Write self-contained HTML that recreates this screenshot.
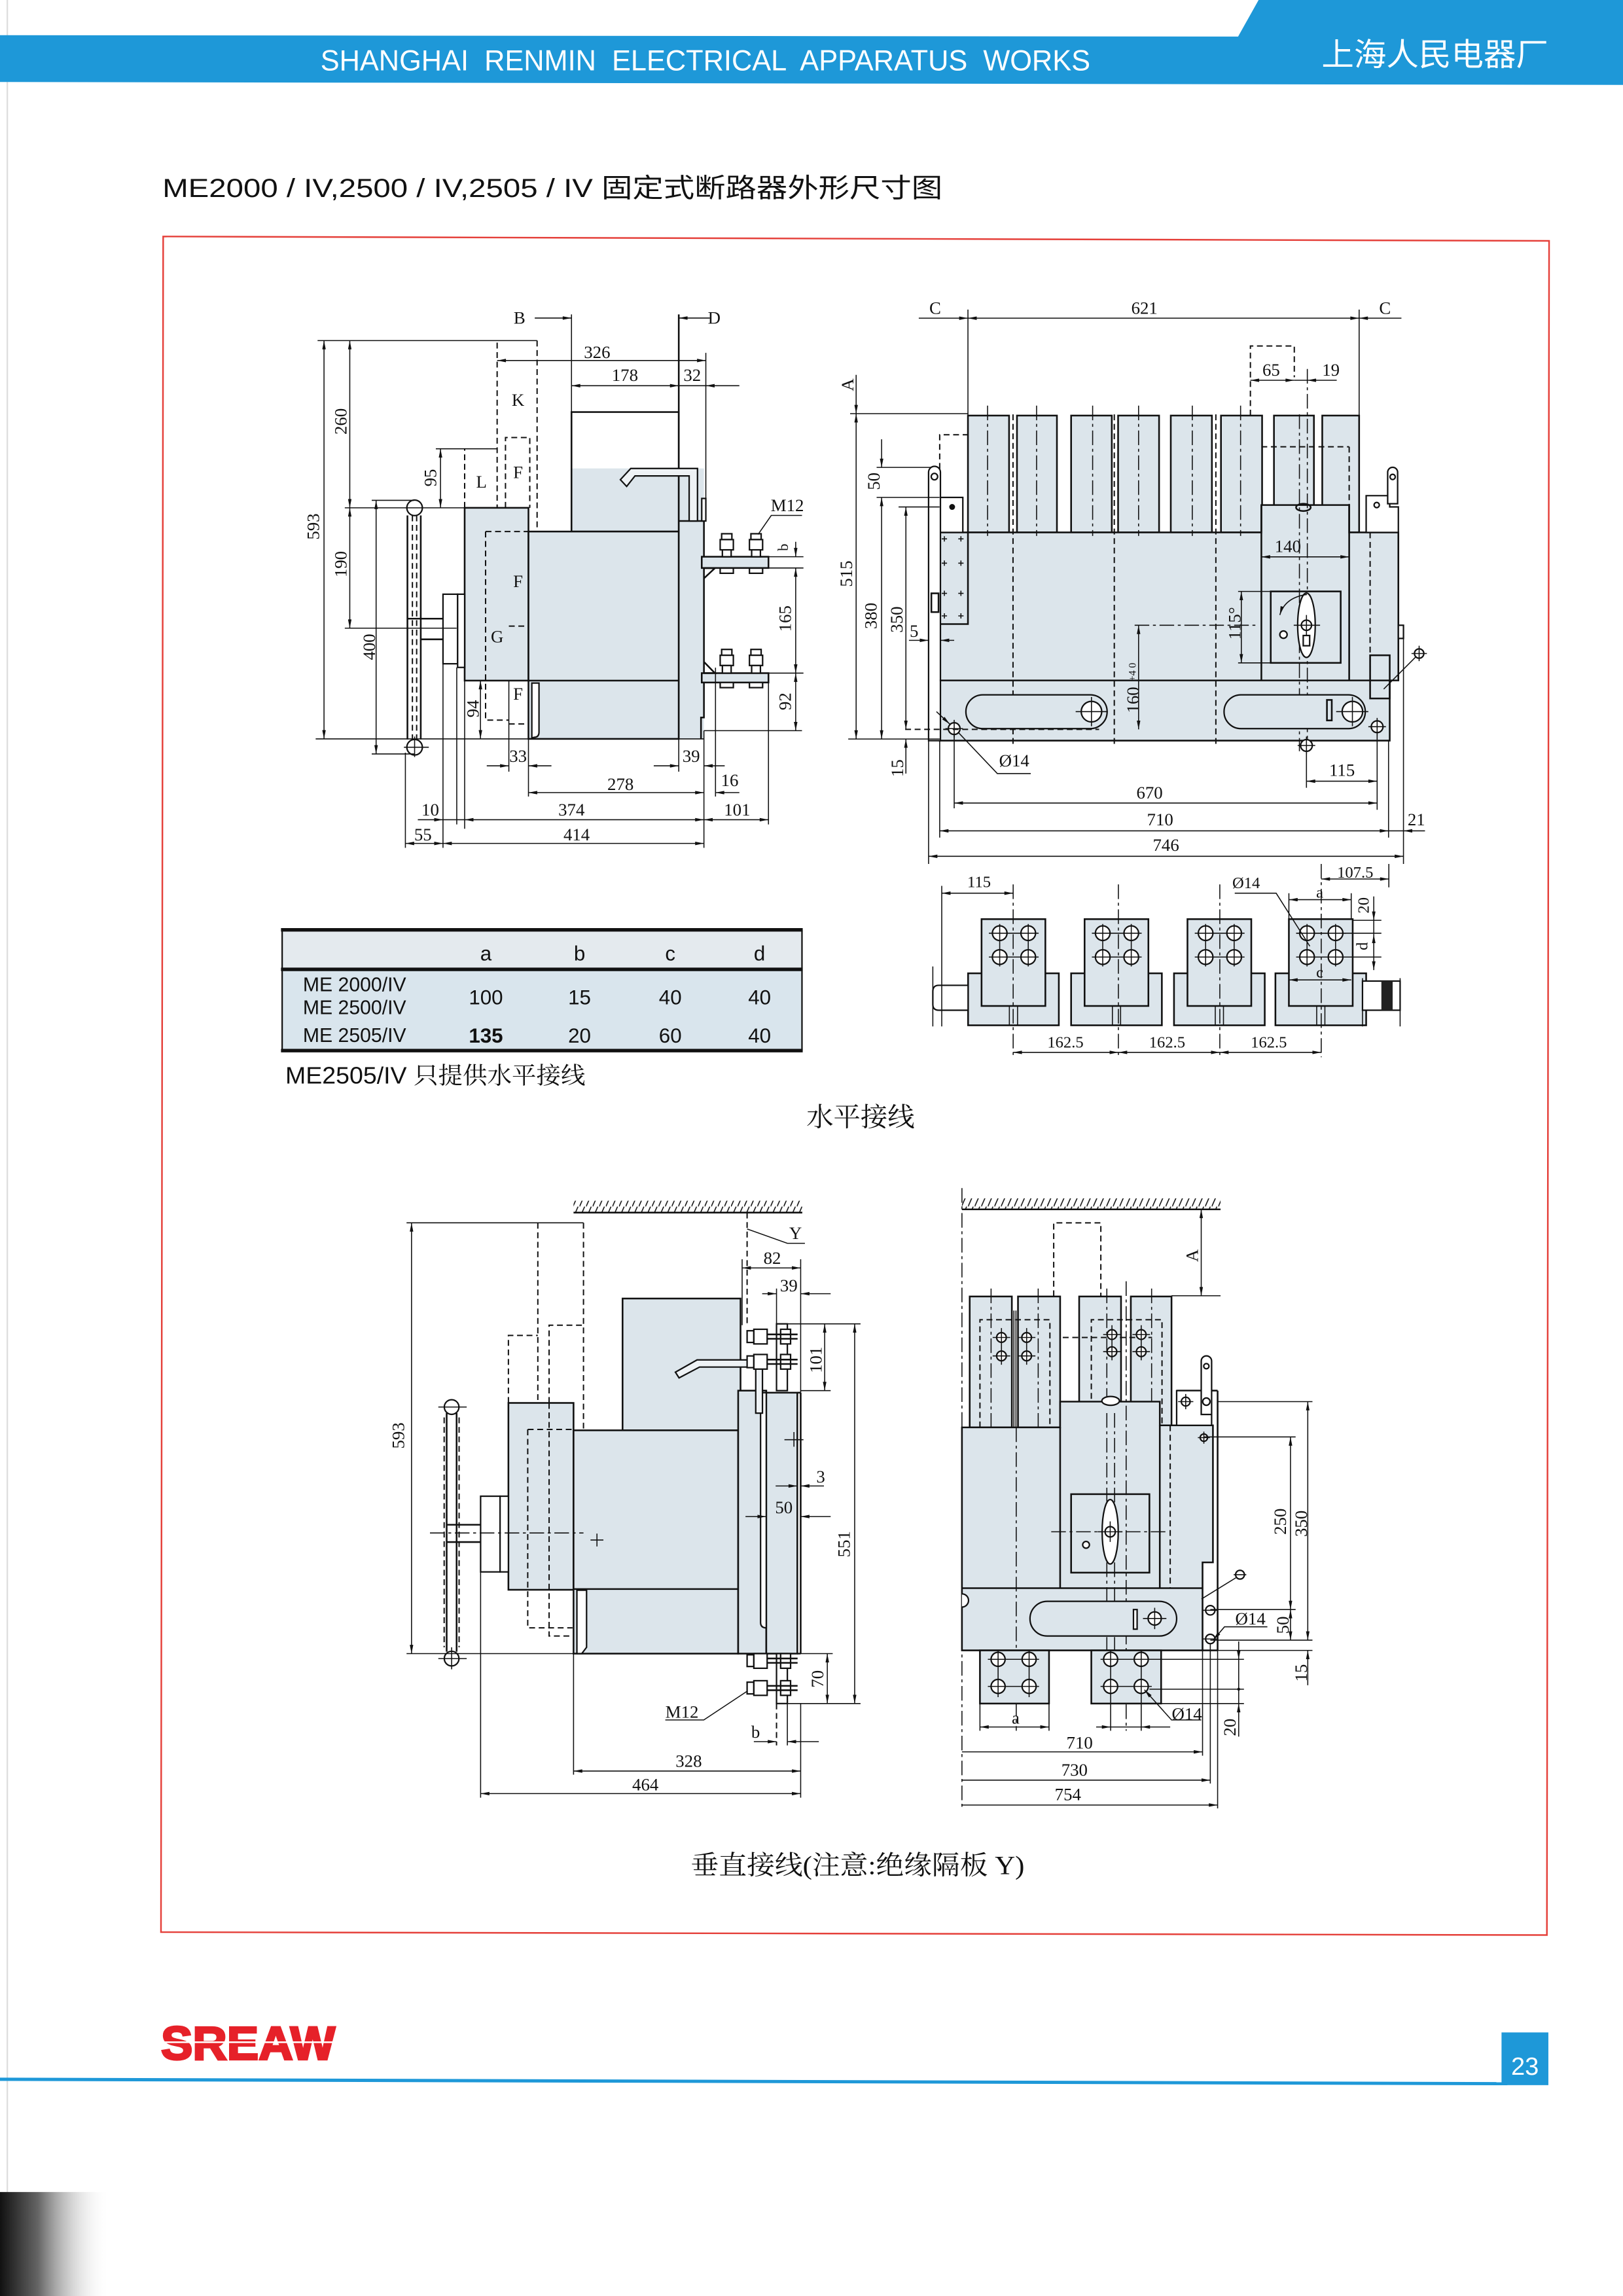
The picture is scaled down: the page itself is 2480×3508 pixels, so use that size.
<!DOCTYPE html>
<html><head><meta charset="utf-8"><style>
html,body{margin:0;padding:0;background:#fff}
body{width:2480px;height:3508px;overflow:hidden}
svg{display:block}
.s{fill:none;stroke:#111;stroke-width:1.15}
.g{fill:#dce5eb;stroke:#111;stroke-width:1.15}
.w{fill:#fff;stroke:#111;stroke-width:1}
.d{fill:none;stroke:#111;stroke-width:.9;stroke-dasharray:4 2.5}
.c{fill:none;stroke:#111;stroke-width:.7;stroke-dasharray:10 2.5 2 2.5}
.m{fill:none;stroke:#111;stroke-width:.7;marker-start:url(#a);marker-end:url(#a)}
.e{fill:none;stroke:#111;stroke-width:.7;marker-end:url(#a)}
.x{fill:none;stroke:#111;stroke-width:.7}
.t{font-family:"Liberation Serif",serif;font-size:12px;text-anchor:middle;dominant-baseline:central;fill:#111}
.ts{font-family:"Liberation Sans",sans-serif;font-size:14px;text-anchor:middle;fill:#111}
</style></head><body>
<svg width="2480" height="3508" viewBox="0 0 1109 1568" preserveAspectRatio="none">
<defs>
<marker id="a" viewBox="0 0 10 4" refX="10" refY="2" markerWidth="7" markerHeight="2.4" markerUnits="userSpaceOnUse" orient="auto-start-reverse"><path d="M0,0L10,2L0,4z" fill="#111"/></marker>
<pattern id="h" width="4.5" height="8" patternUnits="userSpaceOnUse"><path d="M0,8L3.5,0" stroke="#111" stroke-width=".7"/></pattern>
<linearGradient id="sh" x1="0" x2="1" y1="0" y2="0"><stop offset="0" stop-color="#111"/><stop offset=".35" stop-color="#666"/><stop offset="1" stop-color="#fff" stop-opacity="0"/></linearGradient>
</defs>
<rect width="1109" height="1568" fill="#fff"/>
<line x1="5" y1="0" x2="5" y2="1500" stroke="#ddd" stroke-width="1"/>

<!-- HEADER -->
<polygon points="0,24 846,25 860,0 1109,0 1109,58 0,56" fill="#1e98d8"/>
<text x="219" y="48" font-family="Liberation Sans,sans-serif" font-size="20" fill="#fff" textLength="526" lengthAdjust="spacingAndGlyphs" style="white-space:pre">SHANGHAI  RENMIN  ELECTRICAL  APPARATUS  WORKS</text>
<text x="903" y="44.8" font-family="'Noto Sans CJK SC',sans-serif" font-size="21.5" fill="#fff" textLength="155" lengthAdjust="spacingAndGlyphs">上海人民电器厂</text>

<text x="111" y="134.5" font-family="'Liberation Sans','Noto Sans CJK SC',sans-serif" font-size="18" fill="#111" textLength="533" lengthAdjust="spacingAndGlyphs">ME2000 / IV,2500 / IV,2505 / IV 固定式断路器外形尺寸图</text>

<polygon points="111.5,161.5 1058.5,164.5 1057,1321.5 110,1319.5" fill="none" stroke="#e5403a" stroke-width="1.1"/>

<!-- ============ TOP LEFT ============ -->
<rect x="390.5" y="319.9" width="73.3" height="43.1" fill="#dce5eb"/>
<rect class="s" x="390.5" y="281.4" width="73.3" height="81.6"/>
<rect class="g" x="317.5" y="346.8" width="43.6" height="118"/>
<rect class="g" x="361.1" y="363" width="102.7" height="141.6"/>
<rect x="463.8" y="319.9" width="17.2" height="184.7" fill="#dce5eb"/>
<path class="s" d="M463.8,214.7V504.6 M463.8,355.8H481V490H479V504.6 M361.1,464.8H463.8"/>
<path class="w" d="M363.4,504V466.5H368.3V500Q368.3,503.5 365,503.5Z"/>
<polygon class="w" points="423.9,327.6 431,319.9 476.6,319.9 476.6,355.8 470.9,355.8 470.9,325 433.9,325 428.2,332.2" style="fill:#eef2f5"/>
<rect class="w" x="479.5" y="340.4" width="2.8" height="15.4"/>
<path class="d" d="M339.7,234V346.8 M367,232.6V363 M345.4,346.8V298.8H362V346.8 M317.5,346.8V306.5 M331.8,363H361.1 M331.8,363V491.8H347.7 M347.7,427.6H361.1 M347.7,494.4H361.1"/>
<rect class="w" x="302.7" y="405.8" width="10" height="47.5"/>
<rect class="w" x="312.7" y="405.8" width="4.8" height="50"/>
<path class="s" d="M278,422.5H302.7 M288,436.6H302.7"/>
<path class="s" d="M278.4,352V505 M287.5,352V505"/>
<path class="d" d="M281.8,352V505 M284.7,352V505"/>
<circle class="w" cx="283.3" cy="346.8" r="5.3"/>
<circle class="w" cx="283.3" cy="510.3" r="5.3"/>
<path class="x" d="M276,510.3H293 M283.3,503V517"/>
<rect class="g" x="479.5" y="380.2" width="45.6" height="7.7"/>
<rect class="g" x="479.5" y="459.7" width="45.6" height="6.4"/>
<g class="w">
<rect x="493.1" y="364.5" width="7" height="4"/><rect x="492.1" y="368.5" width="9" height="7"/><rect x="493.6" y="375.5" width="6" height="4.7"/><rect x="492.1" y="388" width="9" height="3.5"/>
<rect x="513.1" y="364.5" width="7" height="4"/><rect x="512.1" y="368.5" width="9" height="7"/><rect x="513.6" y="375.5" width="6" height="4.7"/><rect x="512.1" y="388" width="9" height="3.5"/>
<rect x="493.1" y="443.5" width="7" height="4"/><rect x="492.1" y="447.5" width="9" height="7"/><rect x="493.6" y="454.5" width="6" height="5.2"/><rect x="492.1" y="466.1" width="9" height="3.5"/>
<rect x="513.1" y="443.5" width="7" height="4"/><rect x="512.1" y="447.5" width="9" height="7"/><rect x="513.6" y="454.5" width="6" height="5.2"/><rect x="512.1" y="466.1" width="9" height="3.5"/>
</g>
<path class="s" d="M481,388L488.5,388L481,395 M481,459.7L488.5,459.7L481,452"/>
<path class="x" d="M548,352H527L518,365"/>
<path class="x" d="M217,232.6H367 M215.7,504.6H481 M235.6,346.8H317.5 M254,341.7H283 M254,514.9H283 M297.8,306.5H339.7 M235.6,429H312 M482.3,241V355.8 M390.5,214.7V281.4"/>
<line class="m" x1="221.4" y1="232.6" x2="221.4" y2="504.6"/>
<line class="m" x1="239" y1="232.6" x2="239" y2="346.8"/>
<line class="m" x1="239" y1="346.8" x2="239" y2="429"/>
<line class="m" x1="257" y1="341.7" x2="257" y2="514.9"/>
<line class="m" x1="301" y1="306.5" x2="301" y2="346.8"/>
<line class="m" x1="328.3" y1="464.8" x2="328.3" y2="504.6"/>
<line class="e" x1="365.4" y1="217.2" x2="390.5" y2="217.2"/>
<line class="e" x1="485" y1="217.2" x2="463.8" y2="217.2"/>
<line class="m" x1="339.7" y1="246.2" x2="482.3" y2="246.2"/>
<line class="m" x1="390.5" y1="263.4" x2="463.8" y2="263.4"/>
<line class="x" x1="463.8" y1="263.4" x2="482.3" y2="263.4"/>
<line class="e" x1="505.2" y1="263.4" x2="482.3" y2="263.4"/>
<path class="x" d="M525,380.2H549 M525,387.9H549 M525,459.7H549 M481,499H548"/>
<line class="e" x1="543.7" y1="370" x2="543.7" y2="380.2"/>
<line class="m" x1="543.7" y1="387.9" x2="543.7" y2="459.7"/>
<line class="m" x1="543.7" y1="459.7" x2="543.7" y2="499"/>
<line class="e" x1="332.6" y1="523" x2="347.7" y2="523"/><line class="e" x1="376.8" y1="523" x2="361.1" y2="523"/>
<line class="e" x1="446.7" y1="523" x2="463.8" y2="523"/><line class="e" x1="495.2" y1="523" x2="481" y2="523"/>
<line class="m" x1="361.1" y1="541.3" x2="481" y2="541.3"/>
<line class="e" x1="505.2" y1="541.3" x2="488.9" y2="541.3"/>
<line class="m" x1="317.5" y1="559.8" x2="481" y2="559.8"/>
<line class="m" x1="481" y1="559.8" x2="525.1" y2="559.8"/>
<line class="e" x1="285.5" y1="559.8" x2="302.7" y2="559.8"/><line class="x" x1="302.7" y1="559.8" x2="317.5" y2="559.8"/>
<line class="m" x1="302.7" y1="576" x2="481" y2="576"/>
<line class="m" x1="277" y1="576" x2="302.7" y2="576"/>
<path class="x" d="M277,514V579 M302.7,453.3V579 M312.1,455.8V563 M317.5,464.8V566 M347.7,464.8V527 M361.1,504.6V544 M463.8,504.6V527 M481,499V579 M488.9,456V544 M525.1,466V563"/>
<g class="t">
<text x="355" y="217">B</text><text x="488" y="217">D</text>
<text x="408" y="240.5">326</text><text x="427" y="256.2">178</text><text x="473" y="256.2">32</text>
<text x="354" y="273">K</text><text x="354" y="322.4">F</text><text x="329" y="329">L</text>
<text x="354" y="396.9">F</text><text x="339.7" y="434.8">G</text><text x="354" y="473.8">F</text>
<text x="538" y="345">M12</text>
<text x="354" y="516.2">33</text><text x="472.3" y="516.2">39</text><text x="424" y="535.4">278</text><text x="498.6" y="532.9">16</text>
<text x="294" y="552.9">10</text><text x="390.5" y="552.9">374</text><text x="503.7" y="552.9">101</text>
<text x="289" y="570">55</text><text x="394" y="570">414</text>
<text transform="rotate(-90 214 359.6)" x="214" y="359.6">593</text>
<text transform="rotate(-90 232.8 287.8)" x="232.8" y="287.8">260</text>
<text transform="rotate(-90 232.8 385.3)" x="232.8" y="385.3">190</text>
<text transform="rotate(-90 252.2 441.8)" x="252.2" y="441.8">400</text>
<text transform="rotate(-90 294 326.3)" x="294" y="326.3">95</text>
<text transform="rotate(-90 323 484)" x="323" y="484">94</text>
<text transform="rotate(-90 536.5 422.5)" x="536.5" y="422.5">165</text>
<text transform="rotate(-90 536.5 479)" x="536.5" y="479">92</text>
<text transform="rotate(-90 535.1 373.8)" x="535.1" y="373.8" style="font-size:10px">b</text>
</g>

<!-- ============ TOP RIGHT ============ -->
<g class="g">
<rect x="661.4" y="283.8" width="28.1" height="79.8"/>
<rect x="694.9" y="283.8" width="27.3" height="79.8"/>
<rect x="731.9" y="283.8" width="27.8" height="79.8"/>
<rect x="764" y="283.8" width="28" height="79.8"/>
<rect x="800" y="283.8" width="28.1" height="79.8"/>
<rect x="834.3" y="283.8" width="28.1" height="79.8"/>
<rect x="870.5" y="283.8" width="27.3" height="79.8"/>
<rect x="903.5" y="283.8" width="25.2" height="79.8"/>
</g>
<path class="g" d="M642.1,363.6H861.9V344.9H921.9V363.6H955.5V464.7H949.6V505.8H642.1Z"/>
<rect class="w" x="642.1" y="339.7" width="15.8" height="23.9"/>
<circle cx="650.6" cy="346.2" r="2" fill="#111"/>
<path class="s" d="M642.1,426.2H661.4V363.6"/>
<path class="x" d="M643.5,368h3.6M645.3,366.2v3.6M654.8,368h3.6M656.6,366.2v3.6M643.5,384.6h3.6M645.3,382.8v3.6M654.8,384.6h3.6M656.6,382.8v3.6M643.5,405.2h3.6M645.3,403.4v3.6M654.8,405.2h3.6M656.6,403.4v3.6M643.5,420.6h3.6M645.3,418.8v3.6M654.8,420.6h3.6M656.6,418.8v3.6"/>
<path class="d" d="M642.1,339.7V296.9H661.4"/>
<path class="w" d="M634.5,505.8V322.5A4.05,4.05 0 0 1 642.6,322.5V505.8Z"/>
<circle class="w" cx="638.5" cy="325.5" r="2.2"/>
<rect class="s" x="636.4" y="405.2" width="4.9" height="12.8"/>
<path class="s" d="M642.1,464.7H949.6 M861.9,344.9V464.7 M921.9,344.9V464.7"/>
<path class="d" d="M692.2,283V510 M761.4,283V510 M830.8,283V510 M936.2,363.6V464.7 M861.9,305.1H921.9 M921.9,305.1V344.9"/>
<path class="c" d="M674.8,277V366 M708.3,277V366 M746.6,277V366 M778,277V366 M814.7,277V366 M847.7,277V366 M887.9,283V513 M893.3,252V513"/>
<ellipse class="s" cx="890.6" cy="346.5" rx="5" ry="2.5"/>
<rect class="s" x="868.3" y="403.9" width="47.8" height="48.8"/>
<ellipse class="w" cx="892.7" cy="427" rx="6" ry="22"/>
<circle class="w" cx="892.7" cy="427" r="3.5"/>
<path class="x" d="M884,427H902 M892.7,420V434"/>
<rect class="w" x="890.5" y="434" width="4.4" height="7"/>
<circle class="w" cx="877" cy="433.4" r="2.5"/>
<path class="e" d="M893,406Q878,408 874.5,420"/>
<path class="c" d="M775.3,427H858.4"/>
<path class="d" d="M854.4,283.8V236.3H884.4V257.6"/>
<path class="w" d="M933.5,363.6V338.5H949.6V346.2H955.5V363.6Z"/>
<path class="w" d="M948.2,344V322.5A3.4,3.4 0 0 1 955,322.5V344Z"/>
<circle class="w" cx="951.6" cy="325.7" r="1.8"/>
<circle class="w" cx="940.7" cy="344.9" r="1.8"/>
<rect class="s" x="936.2" y="447.5" width="13.4" height="29.5"/>
<rect class="w" x="955.5" y="427" width="3.5" height="9"/>
<circle class="w" cx="969.7" cy="446.3" r="3.2"/>
<path class="x" d="M964.5,446.3H975 M969.7,441V451.5 M967.5,448.5L945.5,470.6"/>
<rect class="w" x="660" y="474.5" width="96.5" height="23.1" rx="11.5" style="fill:#dce5eb"/>
<circle class="w" cx="745.8" cy="486" r="7"/><path class="x" d="M735,486H757 M745.8,476V496"/>
<rect class="w" x="836.4" y="474.5" width="96.5" height="23.1" rx="11.5" style="fill:#dce5eb"/>
<circle class="w" cx="924.1" cy="486" r="7"/><path class="x" d="M913,486H935 M924.1,476V496"/>
<rect class="s" x="906.7" y="478" width="3.3" height="14"/>
<circle class="w" cx="941" cy="496.3" r="4"/><path class="x" d="M935,496.3H947 M941,490.3V502.3"/>
<circle class="w" cx="892.7" cy="509.1" r="4"/><path class="x" d="M886.7,509.1H898.7 M892.7,503.1V515.1"/>
<circle class="w" cx="652" cy="497.6" r="4"/><path class="x" d="M646,497.6H658 M652,491.6V503.6"/>
<path class="d" d="M618.5,498.1H751"/>
<path class="x" d="M580.9,282.5H661.4 M579.6,504.7H642.1 M599,319.2H636 M599,339.7H642 M614,346.2H642"/>
<line class="e" x1="585" y1="256" x2="585" y2="282.5"/>
<line class="m" x1="585" y1="282.5" x2="585" y2="504.7"/>
<line class="e" x1="602.4" y1="300" x2="602.4" y2="319.2"/>
<line class="m" x1="602.4" y1="339.7" x2="602.4" y2="504.7"/>
<line class="m" x1="619" y1="346.2" x2="619" y2="498.1"/>
<line class="e" x1="619" y1="528.3" x2="619" y2="504.7"/>
<line class="e" x1="621.1" y1="437.3" x2="634.5" y2="437.3"/><line class="e" x1="652" y1="437.3" x2="642.6" y2="437.3"/>
<line class="e" x1="627.8" y1="217.3" x2="661.4" y2="217.3"/>
<line class="m" x1="661.4" y1="217.3" x2="928.7" y2="217.3"/>
<line class="e" x1="957.6" y1="217.3" x2="928.7" y2="217.3"/>
<path class="x" d="M661.4,211.4V283.8 M928.7,211.4V363.6"/>
<line class="m" x1="854.4" y1="259.7" x2="884.4" y2="259.7"/><line class="x" x1="884.4" y1="259.7" x2="893.3" y2="259.7"/><line class="e" x1="913.4" y1="259.7" x2="893.3" y2="259.7"/>
<line class="m" x1="861.9" y1="380.3" x2="921.9" y2="380.3"/>
<line class="m" x1="848.2" y1="403.9" x2="848.2" y2="452.7"/>
<path class="x" d="M846,403.9H868.3 M846,452.7H868.3"/>
<line class="m" x1="778" y1="427" x2="778" y2="498.1"/>
<line class="m" x1="892.7" y1="533.5" x2="941" y2="533.5"/>
<line class="m" x1="652" y1="548.4" x2="941" y2="548.4"/>
<line class="m" x1="642.1" y1="567.4" x2="948.8" y2="567.4"/>
<line class="e" x1="973.7" y1="567.4" x2="959" y2="567.4"/>
<line class="m" x1="634.5" y1="584.8" x2="959" y2="584.8"/>
<path class="x" d="M634.5,505.8V590 M642.1,505.8V572 M652,501.6V552 M892.7,513V538 M941,500.3V553 M948.8,505.8V572 M959,428V590 M948.8,567.4H959"/>
<path class="x" d="M704.3,528.3H681.5L654.7,500.1"/>
<line class="e" x1="639.9" y1="486" x2="649" y2="494.5"/>
<g class="t">
<text x="639" y="210.2">C</text><text x="782" y="210.2">621</text><text x="946.4" y="210.2">C</text>
<text x="868.6" y="252.5">65</text><text x="909.4" y="252.5">19</text><text x="880" y="373.1">140</text>
<text x="917" y="525.8">115</text><text x="693" y="519.4">Ø14</text><text x="785.5" y="541.2">670</text>
<text x="792.7" y="559.7">710</text><text x="967.8" y="559.7">21</text><text x="796.7" y="577.1">746</text>
<text x="624.6" y="430.8">5</text>
<text transform="rotate(-90 579 262.8)" x="579" y="262.8">A</text>
<text transform="rotate(-90 578.2 391.8)" x="578.2" y="391.8">515</text>
<text transform="rotate(-90 597 328.7)" x="597" y="328.7">50</text>
<text transform="rotate(-90 595 420.6)" x="595" y="420.6">380</text>
<text transform="rotate(-90 612.6 423.1)" x="612.6" y="423.1">350</text>
<text transform="rotate(-90 613 524.6)" x="613" y="524.6">15</text>
<text transform="rotate(-90 843.7 425.7)" x="843.7" y="425.7">115°</text>
<text transform="rotate(-90 774 478)" x="774" y="478">160</text>
<text transform="rotate(-90 774 459)" x="774" y="459" style="font-size:7px">+4 0</text>
</g>

<!-- ============ CONNECTION (horizontal) ============ -->
<g class="g">
<rect x="661.5" y="664.7" width="62" height="35.5"/><rect x="670.7" y="627.7" width="43.6" height="59.3"/>
<rect x="731.9" y="664.7" width="62" height="35.5"/><rect x="741.1" y="627.7" width="43.6" height="59.3"/>
<rect x="802.2" y="664.7" width="62" height="35.5"/><rect x="811.4" y="627.7" width="43.6" height="59.3"/>
<rect x="871.5" y="664.7" width="62" height="35.5"/><rect x="880.7" y="627.7" width="43.6" height="59.3"/>
</g>
<path class="x" d="M689.7,687V700.2M695.3,687V700.2M760.1,687V700.2M765.7,687V700.2M830.4,687V700.2M836,687V700.2M899.7,687V700.2M905.3,687V700.2"/>
<path class="x" d="M885.7,637.3H943.9M885.7,653.6H943.9M924.3,628.5H943.9"/>
<g class="w">
<circle cx="683.1" cy="637.3" r="5"/><circle cx="702.6" cy="637.3" r="5"/><circle cx="683.1" cy="653.6" r="5"/><circle cx="702.6" cy="653.6" r="5"/>
<circle cx="753.5" cy="637.3" r="5"/><circle cx="773" cy="637.3" r="5"/><circle cx="753.5" cy="653.6" r="5"/><circle cx="773" cy="653.6" r="5"/>
<circle cx="823.8" cy="637.3" r="5"/><circle cx="843.3" cy="637.3" r="5"/><circle cx="823.8" cy="653.6" r="5"/><circle cx="843.3" cy="653.6" r="5"/>
<circle cx="893.1" cy="637.3" r="5"/><circle cx="912.6" cy="637.3" r="5"/><circle cx="893.1" cy="653.6" r="5"/><circle cx="912.6" cy="653.6" r="5"/>
</g>
<path class="x" d="M675.7,637.3H709.7M675.7,653.6H709.7M746.1,637.3H780.1M746.1,653.6H780.1M816.4,637.3H850.4M816.4,653.6H850.4M885.7,637.3H919.7M885.7,653.6H919.7 M683.1,631V660M702.6,631V660M753.5,631V660M773,631V660M823.8,631V660M843.3,631V660M893.1,631V660M912.6,631V660"/>
<path class="w" d="M661.5,672.9H641.5Q637.4,672.9 637.4,677V686Q637.4,689.9 641.5,689.9H661.5Z"/>
<path class="x" d="M637.4,660V701 M643.5,605V701 M931,668V701 M956.7,668V701"/>
<rect class="w" x="931" y="670" width="25.7" height="19.9"/>
<rect x="943.9" y="670" width="7.7" height="19.9" fill="#222"/>
<path class="c" d="M692.3,604V722 M764.2,604V722 M833.5,604V722 M902.8,590V722"/>
<line class="m" x1="643.5" y1="610" x2="692.3" y2="610"/>
<line class="m" x1="692.3" y1="718.7" x2="764.2" y2="718.7"/>
<line class="m" x1="764.2" y1="718.7" x2="833.5" y2="718.7"/>
<line class="m" x1="833.5" y1="718.7" x2="902.8" y2="718.7"/>
<path class="x" d="M843.7,610H872L895,646.2 M949,590V606 M880.7,610V628 M923.3,610V628"/>
<line class="m" x1="902.8" y1="600.3" x2="949" y2="600.3"/>
<line class="m" x1="880.7" y1="614.4" x2="923.3" y2="614.4"/>
<line class="e" x1="938.7" y1="612.2" x2="938.7" y2="628.5"/>
<line class="x" x1="938.7" y1="628.5" x2="938.7" y2="638.1"/>
<line class="m" x1="938.7" y1="638.1" x2="938.7" y2="662.5"/>
<line class="m" x1="880.7" y1="669.2" x2="923.3" y2="669.2"/>
<g class="t" style="font-size:11px">
<text x="669" y="602.6">115</text><text x="851.5" y="603.3">Ø14</text><text x="926" y="596">107.5</text>
<text x="901.8" y="609.6">a</text><text x="901.8" y="664.2">c</text>
<text transform="rotate(-90 932 618.3)" x="932" y="618.3">20</text>
<text transform="rotate(-90 931 646.2)" x="931" y="646.2">d</text>
<text x="728" y="712.1">162.5</text><text x="797.5" y="712.1">162.5</text><text x="867" y="712.1">162.5</text>
</g>

<!-- ============ TABLE ============ -->
<rect x="192.5" y="635" width="355.5" height="27" fill="#e4eaee"/>
<rect x="192.5" y="662" width="355.5" height="55.5" fill="#d9e5ed"/>
<path d="M192,635H548.5 M192,662H548.5 M192,717.5H548.5" stroke="#111" stroke-width="2.4"/>
<path d="M192.8,635V717.5 M548,635V717.5" stroke="#111" stroke-width="1"/>
<g class="ts">
<text x="332" y="656">a</text><text x="396" y="656">b</text><text x="458" y="656">c</text><text x="519" y="656">d</text>
<text x="332" y="686">100</text><text x="396" y="686">15</text><text x="458" y="686">40</text><text x="519" y="686">40</text>
<text x="332" y="712" font-weight="bold">135</text><text x="396" y="712">20</text><text x="458" y="712">60</text><text x="519" y="712">40</text>
</g>
<g font-family="Liberation Sans,sans-serif" font-size="13.5" fill="#111">
<text x="207" y="677">ME 2000/IV</text><text x="207" y="692.5">ME 2500/IV</text><text x="207" y="711.5">ME 2505/IV</text>
</g>
<text x="195" y="740" font-family="'Liberation Sans','Noto Serif CJK SC',serif" font-size="16" fill="#111" textLength="205" lengthAdjust="spacingAndGlyphs">ME2505/IV 只提供水平接线</text>
<text x="588" y="769" font-family="'Noto Serif CJK SC',serif" font-size="18" fill="#111" text-anchor="middle" textLength="74" lengthAdjust="spacingAndGlyphs">水平接线</text>

<!-- ============ BOTTOM LEFT ============ -->
<rect x="391.9" y="820" width="156.3" height="8.1" fill="url(#h)"/>
<line class="s" x1="391.9" y1="828.1" x2="548.2" y2="828.1"/>
<rect class="g" x="425.4" y="886.8" width="80.6" height="90"/>
<rect class="g" x="347.4" y="958.1" width="44.5" height="127.6"/>
<rect class="g" x="391.9" y="976.8" width="112.5" height="152.5"/>
<rect class="g" x="504.4" y="949.7" width="19.2" height="179.6"/>
<rect class="g" x="523.6" y="951.1" width="21.2" height="178.2"/>
<path class="s" d="M547.1,951.1V1129.3 M544.8,951.1H547.1 M544.8,1129.3H547.1 M391.9,1085.2H504.4"/>
<path class="w" d="M519.7,951.1V1108Q519.7,1111.7 523.6,1111.7V951.1Z"/>
<polygon class="w" points="461.5,937.1 476.3,928.7 521,928.7 521,965.1 516.4,965.1 516.4,933.6 478,933.6 464,941" style="fill:#eef2f5"/>
<path class="w" d="M394.2,1129.3V1086H400.8V1125L397.5,1129.3Z"/>
<path class="x" d="M403.5,1051.7H412.3 M407.9,1047.3V1056.1"/>
<rect class="w" x="328.4" y="1021.8" width="13.3" height="51.7"/>
<rect class="w" x="341.7" y="1021.8" width="5.7" height="51.7"/>
<path class="s" d="M305.2,1041.3H328.4 M305.2,1053.1H328.4 M305.2,965V1128 M312,965V1128"/>
<path class="d" d="M303.5,968V1125 M313.7,968V1125"/>
<path class="c" d="M293.8,1046.9H398.7"/>
<circle class="w" cx="308.6" cy="960.9" r="5"/>
<circle class="w" cx="308.6" cy="1132.7" r="5"/>
<path class="x" d="M299.5,960.9H318.9 M299.5,1132.7H318.9 M308.6,1125V1140"/>
<path class="d" d="M367.5,835.1V958.1 M398.7,835.1V976.8 M347.4,958.1V912H367.5 M375.2,958.1V905H398.7 M360.6,976.2H391.2 M360.6,976.2V1111.7H391.2 M375.2,958.1V1117.3H391.2 M510.5,828.1V905"/>
<rect class="w" x="530.6" y="904.1" width="7.4" height="45.6"/>
<rect class="w" x="530.6" y="1129.3" width="7.4" height="34.1"/>
<g class="w">
<rect x="510.5" y="908.8" width="4.6" height="8"/><rect x="515.1" y="907.8" width="9.1" height="10"/><rect x="533.4" y="907.8" width="6.8" height="10"/>
<rect x="510.5" y="926" width="4.6" height="8"/><rect x="515.1" y="925" width="9.1" height="10"/><rect x="533.4" y="925" width="6.8" height="10"/>
<rect x="510.5" y="1130.1" width="4.6" height="8"/><rect x="515.1" y="1129.3" width="9.1" height="10"/><rect x="533.4" y="1129.3" width="6.8" height="10"/>
<rect x="510.5" y="1148.8" width="4.6" height="8"/><rect x="515.1" y="1147.8" width="9.1" height="10"/><rect x="533.4" y="1147.8" width="6.8" height="10"/>
</g>
<path class="s" d="M524.2,911.3H545 M524.2,914.3H545 M524.2,928.5H545 M524.2,931.5H545 M524.2,1132.6H545 M524.2,1135.6H545 M524.2,1151.3H545 M524.2,1154.3H545"/>
<path class="x" d="M277.8,835.1H398.7 M277.8,1129.3H391.9 M510.5,839.3L538,849.1H550 M507.1,860V905 M547.1,860V951 M530.6,880V904 M538,904.1H588 M547.1,949.7H567.6 M538,1163.4H588 M547.1,1129.3H569 M536,983.2H549 M542.5,978V988 M454.6,1174.6H480.9L510.5,1155"/>
<line class="m" x1="281.2" y1="835.1" x2="281.2" y2="1129.3"/>
<line class="m" x1="507.1" y1="865.9" x2="547.1" y2="865.9"/>
<line class="e" x1="520.8" y1="883.5" x2="530.6" y2="883.5"/><line class="e" x1="567.6" y1="883.5" x2="547.1" y2="883.5"/>
<line class="m" x1="563.5" y1="904.1" x2="563.5" y2="949.7"/>
<line class="m" x1="584" y1="904.1" x2="584" y2="1163.4"/>
<line class="e" x1="530" y1="1014.8" x2="544.8" y2="1014.8"/><line class="e" x1="563" y1="1014.8" x2="547.1" y2="1014.8"/>
<line class="e" x1="509.4" y1="1035.7" x2="523.6" y2="1035.7"/><line class="e" x1="567.6" y1="1035.7" x2="547.1" y2="1035.7"/>
<line class="m" x1="565.3" y1="1129.3" x2="565.3" y2="1163.4"/>
<line class="e" x1="515.1" y1="1189.4" x2="530.6" y2="1189.4"/><line class="e" x1="559.5" y1="1189.4" x2="538" y2="1189.4"/>
<line class="m" x1="391.9" y1="1209.5" x2="547.1" y2="1209.5"/>
<line class="m" x1="328.4" y1="1224.9" x2="547.1" y2="1224.9"/>
<path class="x" d="M328.4,1073.5V1227.7 M391.9,1129.3V1212 M547.1,1163.4V1227.7 M538,1163.4V1192"/>
<path class="d" d="M530.6,1163.4V1192"/>
<g class="t">
<text transform="rotate(-90 272 980.4)" x="272" y="980.4">593</text>
<text x="543.6" y="842.1">Y</text><text x="527.7" y="859">82</text><text x="539" y="877.9">39</text>
<text transform="rotate(-90 557.3 928.7)" x="557.3" y="928.7">101</text>
<text transform="rotate(-90 576.7 1054.5)" x="576.7" y="1054.5">551</text>
<text x="560.8" y="1008.3">3</text><text x="535.6" y="1029.3">50</text>
<text transform="rotate(-90 558.5 1146.6)" x="558.5" y="1146.6">70</text>
<text x="466" y="1169">M12</text><text x="516.3" y="1182.8">b</text>
<text x="470.6" y="1202.5">328</text><text x="441" y="1218.7">464</text>
</g>

<!-- ============ BOTTOM RIGHT ============ -->
<rect x="657.3" y="818.4" width="176.7" height="7.5" fill="url(#h)"/>
<line class="s" x1="657.3" y1="825.9" x2="834" y2="825.9"/>
<path class="c" d="M657.3,811.4V1235"/>
<path class="d" d="M720,956.7V835.1H752.2V974.8"/>
<g class="g">
<rect x="662.6" y="885.4" width="28.8" height="89.4"/><rect x="695.6" y="885.4" width="28.8" height="89.4"/>
<rect x="737.4" y="885.4" width="28.6" height="89.4"/><rect x="772.7" y="885.4" width="27.8" height="89.4"/>
</g>
<path class="x" d="M692.8,895V974.8 M694.2,895V974.8"/>
<path class="d" d="M669.6,974.8V901.3H717.4V974.8 M745.7,974.8V901.3H794V974.8 M726.2,913.4H787.2"/>
<path class="c" d="M677.2,880V974.8 M709.4,880V974.8 M756.3,880V974.8 M786.9,880V974.8"/>
<g class="w">
<circle cx="684.3" cy="913.4" r="3.3"/><circle cx="684.3" cy="926" r="3.3"/><circle cx="701.5" cy="913.4" r="3.3"/><circle cx="701.5" cy="926" r="3.3"/>
<circle cx="759.8" cy="911.4" r="3.3"/><circle cx="759.8" cy="923.1" r="3.3"/><circle cx="779.8" cy="911.4" r="3.3"/><circle cx="779.8" cy="923.1" r="3.3"/>
</g>
<path class="x" d="M678.3,913.4h12M678.3,926h12M695.5,913.4h12M695.5,926h12M753.8,911.4h12M753.8,923.1h12M773.8,911.4h12M773.8,923.1h12M684.3,907v25M701.5,907v25M759.8,905v24M779.8,905v24"/>
<path class="g" d="M657.3,974.8H724.4V957.2H792.5V973.4H828.8V1067H821.7V1127.1H657.3Z"/>
<path class="s" d="M657.3,1084.6H821.7 M724.4,974.8V1084.6 M792.5,973.4V1084.6 M832,949.7V1127.1 M821.7,1127.1H832 M804,949.7H832"/>
<path class="d" d="M799.6,973.4V1084.6"/>
<path class="w" d="M657.3,1088.5A4.5,4.5 0 0 1 657.3,1097.5"/>
<rect class="s" x="731.9" y="1020.4" width="53.5" height="53.6"/>
<path class="c" d="M718.3,1046.1H796.9 M756.3,965V1140 M761.6,965V1140 M694.4,974.8V1182 M769.5,875V1182"/>
<ellipse class="w" cx="758.6" cy="1046.1" rx="5.5" ry="22"/>
<circle class="w" cx="758.6" cy="1046.1" r="3.5"/>
<path class="x" d="M750,1046.1H767 M758.6,1039V1053"/>
<circle class="w" cx="742.1" cy="1055" r="2.3"/>
<ellipse class="w" cx="758.9" cy="956.7" rx="6" ry="3"/>
<rect class="w" x="703.8" y="1093.6" width="100.2" height="23.7" rx="11.8" style="fill:#dce5eb"/>
<rect class="w" x="774.5" y="1099.2" width="2.5" height="13.4"/>
<circle class="w" cx="789" cy="1105.3" r="4.5"/><path class="x" d="M781,1105.3H797 M789,1098V1112.6"/>
<rect class="w" x="804" y="949.7" width="23.9" height="23.7"/>
<circle class="w" cx="810.2" cy="957.2" r="3"/><path class="x" d="M805,957.2H815.4 M810.2,952V962.4"/>
<path class="w" d="M820.8,966V929.5A3.55,3.55 0 0 1 827.9,929.5V966Z"/>
<circle class="w" cx="824.3" cy="933" r="1.8"/>
<circle class="w" cx="824.3" cy="957.2" r="2.5"/>
<circle class="w" cx="822.6" cy="981.8" r="2.5"/><path class="x" d="M818.5,981.8H826.7 M822.6,977.7V985.9"/>
<circle class="w" cx="847.3" cy="1075.4" r="3"/><path class="x" d="M843,1075.4H851.6 M844.5,1077.5L821,1092"/>
<circle class="w" cx="827" cy="1099.7" r="3.2"/><circle class="w" cx="827" cy="1119.3" r="3.2"/>
<path class="x" d="M822,1099.7H832 M822,1119.3H832"/>
<path class="e" d="M866,1111H836.7L829,1120"/>
<rect class="g" x="669.6" y="1127.1" width="47.2" height="36.3"/>
<rect class="g" x="745.7" y="1127.1" width="47.7" height="36.3"/>
<g class="w">
<circle cx="682" cy="1133.2" r="4.8"/><circle cx="703.2" cy="1133.2" r="4.8"/><circle cx="682" cy="1151.7" r="4.8"/><circle cx="703.2" cy="1151.7" r="4.8"/>
<circle cx="758.9" cy="1133.2" r="4.8"/><circle cx="779.8" cy="1133.2" r="4.8"/><circle cx="758.9" cy="1151.7" r="4.8"/><circle cx="779.8" cy="1151.7" r="4.8"/>
</g>
<path class="x" d="M675,1133.2h35M675,1151.7h35M752,1133.2h35M752,1151.7h35M682,1127v32M703.2,1127v32M758.9,1127v55M779.8,1127v55"/>
<path class="e" d="M820.8,1174.6H800.5L782,1154"/>
<path class="x" d="M785.4,1133.2H850 M785.4,1153.6H850 M793.4,1163.4H850"/>
<line class="e" x1="846.4" y1="1121" x2="846.4" y2="1133.2"/>
<line class="x" x1="846.4" y1="1133.2" x2="846.4" y2="1163.4"/>
<line class="e" x1="846.4" y1="1186" x2="846.4" y2="1163.4"/>
<circle cx="846.4" cy="1153.6" r="1" fill="#111"/>
<line class="m" x1="820.8" y1="825.9" x2="820.8" y2="884.9"/>
<path class="x" d="M800.5,884.9H834"/>
<line class="m" x1="881.8" y1="981.3" x2="881.8" y2="1099.2"/>
<line class="m" x1="893.6" y1="957.2" x2="893.6" y2="1120.1"/>
<line class="m" x1="881.8" y1="1099.2" x2="881.8" y2="1120.1"/>
<line class="e" x1="893.6" y1="1150.9" x2="893.6" y2="1127.1"/>
<path class="x" d="M832,957.2H896.8 M822.6,981.3H885.3 M827,1099.2H885.3 M827,1120.1H896.8 M832,1127.1H896.8"/>
<line class="m" x1="669.6" y1="1179.4" x2="716.8" y2="1179.4"/>
<path class="x" d="M669.6,1163.4V1182 M716.8,1163.4V1182 M758.9,1179.4H779.8"/>
<line class="e" x1="749" y1="1179.4" x2="758.9" y2="1179.4"/><line class="e" x1="799.6" y1="1179.4" x2="779.8" y2="1179.4"/>
<line class="e" x1="657.3" y1="1196.4" x2="821.7" y2="1196.4"/>
<line class="e" x1="657.3" y1="1215.7" x2="827" y2="1215.7"/>
<line class="e" x1="657.3" y1="1232.7" x2="832" y2="1232.7"/>
<path class="x" d="M821.7,1084.6V1199 M827,1122.5V1218 M832,1127.1V1235"/>
<g class="t">
<text transform="rotate(-90 814.6 857.5)" x="814.6" y="857.5">A</text>
<text transform="rotate(-90 874.7 1039.1)" x="874.7" y="1039.1">250</text>
<text transform="rotate(-90 888.9 1040.5)" x="888.9" y="1040.5">350</text>
<text transform="rotate(-90 876.5 1109.8)" x="876.5" y="1109.8">50</text>
<text transform="rotate(-90 888.9 1142.5)" x="888.9" y="1142.5">15</text>
<text transform="rotate(-90 840.3 1179.6)" x="840.3" y="1179.6">20</text>
<text x="854.4" y="1105.3">Ø14</text><text x="811" y="1170.4">Ø14</text>
<text x="694" y="1173.2">a</text>
<text x="737.7" y="1190">710</text><text x="734.2" y="1208.7">730</text><text x="729.7" y="1225.4">754</text>
</g>
<text x="586" y="1280" font-family="'Liberation Serif','Noto Serif CJK SC',serif" font-size="18" fill="#111" text-anchor="middle" textLength="228" lengthAdjust="spacingAndGlyphs">垂直接线(注意:绝缘隔板 Y)</text>

<!-- FOOTER -->
<text x="110" y="1406.5" font-family="Liberation Sans,sans-serif" font-weight="bold" font-size="32" fill="#e62129" stroke="#e62129" stroke-width="1.4" textLength="119" lengthAdjust="spacingAndGlyphs">SREAW</text>
<line x1="108" y1="1394.7" x2="232" y2="1394.7" stroke="#fff" stroke-width="1.1"/>
<path d="M0,1420L1030,1423" stroke="#1e98d8" stroke-width="2.2"/>
<rect x="1026" y="1388" width="32" height="36" fill="#1e98d8"/>
<text x="1042" y="1417" font-family="Liberation Sans,sans-serif" font-size="17" fill="#fff" text-anchor="middle">23</text>
<rect x="0" y="1497" width="75" height="71" fill="url(#sh)"/>
</svg>
</body></html>
